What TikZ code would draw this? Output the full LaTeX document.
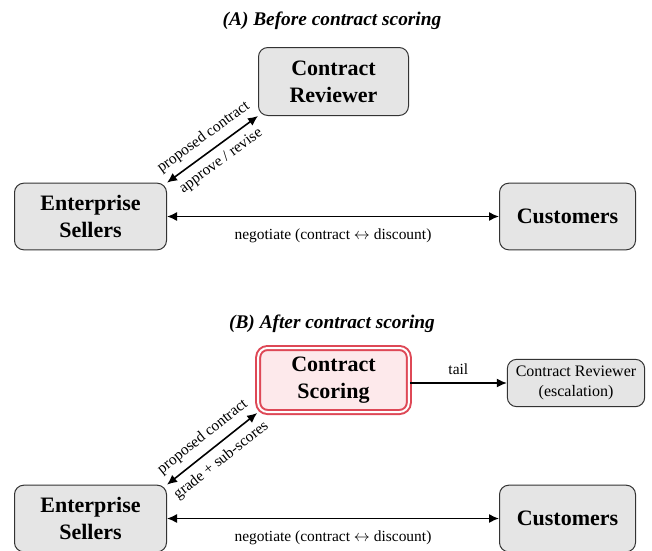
\documentclass[tikz,border=0pt]{standalone}
\usepackage{fontspec}
\setmainfont{Liberation Serif}
\usetikzlibrary{arrows.meta}

\definecolor{scorered}{RGB}{222,72,86}
\definecolor{scorepink}{RGB}{253,233,235}

\begin{document}
\begin{tikzpicture}[x=0.75pt,y=-0.75pt,>={Latex[length=7.5pt,width=6.8pt]},
    box/.style={draw=black!80,fill=black!10,line width=0.75pt,rounded corners=7pt,
        align=center,font=\fontsize{16.5}{20.5}\selectfont\bfseries},
    scorebox/.style={box,draw=scorered,fill=scorepink,line width=1.5pt,
        double=white,double distance=1.5pt},
    smallbox/.style={box,font=\fontsize{12}{14.5}\selectfont},
    link/.style={<->,line width=1.2pt},
    lbl/.style={font=\fontsize{11.6}{13}\selectfont},
    title/.style={font=\fontsize{14.5}{16}\selectfont\bfseries\itshape}]
    \useasboundingbox (0,0) rectangle (652,550);

    \node[title] (titleA) at (332,21) {(A) Before contract scoring};
    \node[box,minimum width=112.5pt,minimum height=51pt] (rev) at (333.5,81.5)
        {Contract\\Reviewer};
    \node[box,minimum width=114pt,minimum height=50pt] (sellA) at (90.5,216.5)
        {Enterprise\\Sellers};
    \node[box,minimum width=102pt,minimum height=50pt] (custA) at (567.5,216.5)
        {Customers};
    \draw[link] (sellA.north east) -- (rev.south west)
        node[midway,sloped,above=2pt,lbl] {proposed contract}
        node[midway,sloped,below=2pt,lbl] {approve / revise};
    \draw[link] (sellA) -- (custA)
        node[midway,below=5pt,lbl] {negotiate (contract $\leftrightarrow$ discount)};

    \node[title] (titleB) at (332,324) {(B) After contract scoring};
    \node[scorebox,minimum width=113pt,minimum height=48pt] (score) at (333.5,380)
        {Contract\\Scoring};
    \node[smallbox,minimum width=103pt,minimum height=35.5pt] (esc) at (576,383)
        {Contract Reviewer\\(escalation)};
    \node[box,minimum width=114pt,minimum height=50pt] (sellB) at (90.5,518.5)
        {Enterprise\\Sellers};
    \node[box,minimum width=102pt,minimum height=50pt] (custB) at (567.5,518.5)
        {Customers};
    \draw[->,line width=1.2pt] (score.east |- esc.west) -- (esc.west)
        node[midway,above=2pt,lbl] {tail};
    \draw[link] (sellB.north east) -- (score.south west)
        node[midway,sloped,above=2pt,lbl] {proposed contract}
        node[midway,sloped,below=2pt,lbl] {grade + sub-scores};
    \draw[link] (sellB) -- (custB)
        node[midway,below=5pt,lbl] {negotiate (contract $\leftrightarrow$ discount)};
\end{tikzpicture}
\end{document}
